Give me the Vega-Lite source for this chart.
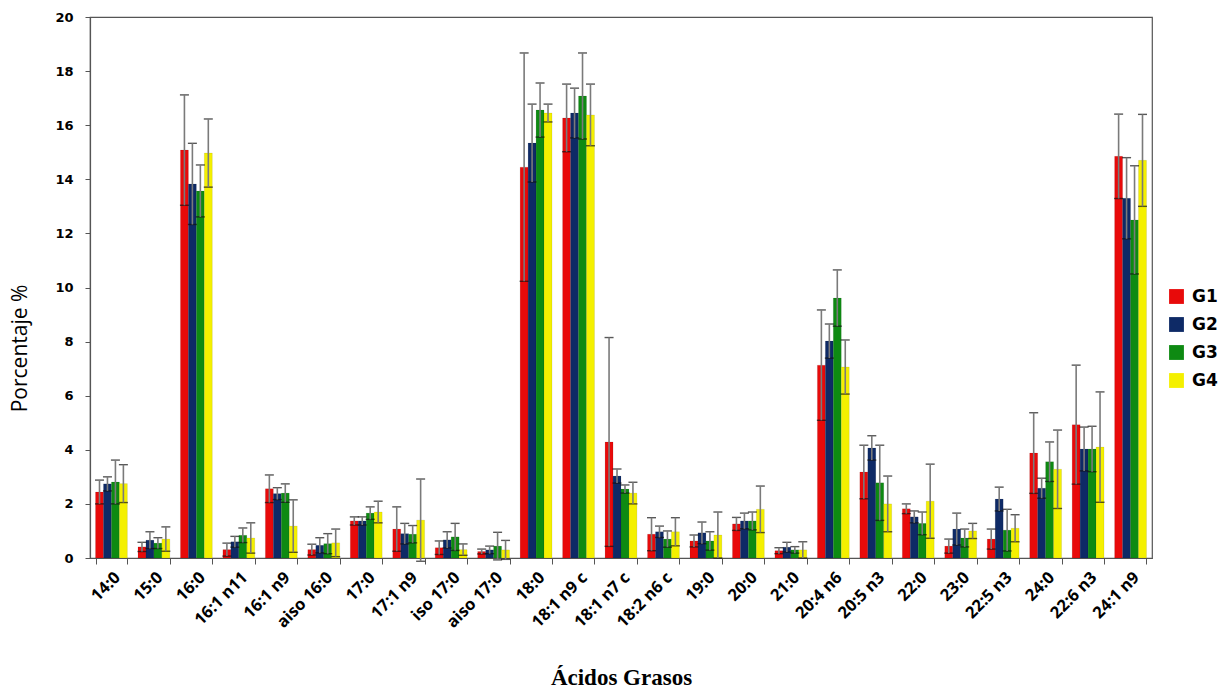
{
  "$schema": "https://vega.github.io/schema/vega-lite/v6.json",
  "width": 1062,
  "height": 541,
  "autosize": "none",
  "padding": {"left": 90, "top": 17, "right": 74, "bottom": 136},
  "background": "#ffffff",
  "config": {
    "view": {"stroke": "#555555", "strokeWidth": 1.2},
    "axis": {"domainColor": "#555555", "tickColor": "#555555", "grid": false}
  },
  "data": {
    "values": [
      {"acido": "14:0", "grupo": "G1", "media": 2.44, "de": 0.44},
      {"acido": "14:0", "grupo": "G2", "media": 2.74, "de": 0.26},
      {"acido": "14:0", "grupo": "G3", "media": 2.81, "de": 0.81},
      {"acido": "14:0", "grupo": "G4", "media": 2.75, "de": 0.7},
      {"acido": "15:0", "grupo": "G1", "media": 0.41, "de": 0.17},
      {"acido": "15:0", "grupo": "G2", "media": 0.66, "de": 0.31},
      {"acido": "15:0", "grupo": "G3", "media": 0.55, "de": 0.2},
      {"acido": "15:0", "grupo": "G4", "media": 0.7, "de": 0.45},
      {"acido": "16:0", "grupo": "G1", "media": 15.08, "de": 2.04},
      {"acido": "16:0", "grupo": "G2", "media": 13.83, "de": 1.5},
      {"acido": "16:0", "grupo": "G3", "media": 13.57, "de": 0.96},
      {"acido": "16:0", "grupo": "G4", "media": 14.97, "de": 1.26},
      {"acido": "16:1 n11", "grupo": "G1", "media": 0.31, "de": 0.24},
      {"acido": "16:1 n11", "grupo": "G2", "media": 0.6, "de": 0.2},
      {"acido": "16:1 n11", "grupo": "G3", "media": 0.84, "de": 0.27},
      {"acido": "16:1 n11", "grupo": "G4", "media": 0.74, "de": 0.56},
      {"acido": "16:1 n9", "grupo": "G1", "media": 2.56, "de": 0.51},
      {"acido": "16:1 n9", "grupo": "G2", "media": 2.38, "de": 0.22},
      {"acido": "16:1 n9", "grupo": "G3", "media": 2.4, "de": 0.34},
      {"acido": "16:1 n9", "grupo": "G4", "media": 1.18, "de": 0.97},
      {"acido": "aiso 16:0", "grupo": "G1", "media": 0.31, "de": 0.2},
      {"acido": "aiso 16:0", "grupo": "G2", "media": 0.47, "de": 0.28},
      {"acido": "aiso 16:0", "grupo": "G3", "media": 0.53, "de": 0.37},
      {"acido": "aiso 16:0", "grupo": "G4", "media": 0.56, "de": 0.51},
      {"acido": "17:0", "grupo": "G1", "media": 1.37, "de": 0.15},
      {"acido": "17:0", "grupo": "G2", "media": 1.37, "de": 0.15},
      {"acido": "17:0", "grupo": "G3", "media": 1.66, "de": 0.23},
      {"acido": "17:0", "grupo": "G4", "media": 1.7, "de": 0.4},
      {"acido": "17:1 n9", "grupo": "G1", "media": 1.07, "de": 0.82},
      {"acido": "17:1 n9", "grupo": "G2", "media": 0.9, "de": 0.38},
      {"acido": "17:1 n9", "grupo": "G3", "media": 0.88, "de": 0.32},
      {"acido": "17:1 n9", "grupo": "G4", "media": 1.4, "de": 1.52},
      {"acido": "iso 17:0", "grupo": "G1", "media": 0.38, "de": 0.25},
      {"acido": "iso 17:0", "grupo": "G2", "media": 0.67, "de": 0.3},
      {"acido": "iso 17:0", "grupo": "G3", "media": 0.78, "de": 0.5},
      {"acido": "iso 17:0", "grupo": "G4", "media": 0.31, "de": 0.21},
      {"acido": "aiso 17:0", "grupo": "G1", "media": 0.24, "de": 0.09},
      {"acido": "aiso 17:0", "grupo": "G2", "media": 0.3, "de": 0.14},
      {"acido": "aiso 17:0", "grupo": "G3", "media": 0.44, "de": 0.51},
      {"acido": "aiso 17:0", "grupo": "G4", "media": 0.3, "de": 0.35},
      {"acido": "18:0", "grupo": "G1", "media": 14.45, "de": 4.22},
      {"acido": "18:0", "grupo": "G2", "media": 15.34, "de": 1.44},
      {"acido": "18:0", "grupo": "G3", "media": 16.56, "de": 1.0},
      {"acido": "18:0", "grupo": "G4", "media": 16.45, "de": 0.33},
      {"acido": "18:1 n9 c", "grupo": "G1", "media": 16.27, "de": 1.25},
      {"acido": "18:1 n9 c", "grupo": "G2", "media": 16.45, "de": 0.92},
      {"acido": "18:1 n9 c", "grupo": "G3", "media": 17.08, "de": 1.59},
      {"acido": "18:1 n9 c", "grupo": "G4", "media": 16.38, "de": 1.14},
      {"acido": "18:1 n7 c", "grupo": "G1", "media": 4.29, "de": 3.86},
      {"acido": "18:1 n7 c", "grupo": "G2", "media": 3.03, "de": 0.26},
      {"acido": "18:1 n7 c", "grupo": "G3", "media": 2.55, "de": 0.15},
      {"acido": "18:1 n7 c", "grupo": "G4", "media": 2.4, "de": 0.4},
      {"acido": "18:2 n6 c", "grupo": "G1", "media": 0.88, "de": 0.61},
      {"acido": "18:2 n6 c", "grupo": "G2", "media": 0.97, "de": 0.21},
      {"acido": "18:2 n6 c", "grupo": "G3", "media": 0.7, "de": 0.3},
      {"acido": "18:2 n6 c", "grupo": "G4", "media": 0.97, "de": 0.52},
      {"acido": "19:0", "grupo": "G1", "media": 0.63, "de": 0.22},
      {"acido": "19:0", "grupo": "G2", "media": 0.93, "de": 0.4},
      {"acido": "19:0", "grupo": "G3", "media": 0.63, "de": 0.34},
      {"acido": "19:0", "grupo": "G4", "media": 0.85, "de": 0.85},
      {"acido": "20:0", "grupo": "G1", "media": 1.26, "de": 0.24},
      {"acido": "20:0", "grupo": "G2", "media": 1.37, "de": 0.29},
      {"acido": "20:0", "grupo": "G3", "media": 1.37, "de": 0.33},
      {"acido": "20:0", "grupo": "G4", "media": 1.8, "de": 0.86},
      {"acido": "21:0", "grupo": "G1", "media": 0.27, "de": 0.11},
      {"acido": "21:0", "grupo": "G2", "media": 0.4, "de": 0.18},
      {"acido": "21:0", "grupo": "G3", "media": 0.3, "de": 0.12},
      {"acido": "21:0", "grupo": "G4", "media": 0.3, "de": 0.3},
      {"acido": "20:4 n6", "grupo": "G1", "media": 7.13, "de": 2.04},
      {"acido": "20:4 n6", "grupo": "G2", "media": 8.02, "de": 0.63},
      {"acido": "20:4 n6", "grupo": "G3", "media": 9.61, "de": 1.04},
      {"acido": "20:4 n6", "grupo": "G4", "media": 7.06, "de": 1.0},
      {"acido": "20:5 n3", "grupo": "G1", "media": 3.18, "de": 0.99},
      {"acido": "20:5 n3", "grupo": "G2", "media": 4.07, "de": 0.45},
      {"acido": "20:5 n3", "grupo": "G3", "media": 2.78, "de": 1.39},
      {"acido": "20:5 n3", "grupo": "G4", "media": 2.0, "de": 1.03},
      {"acido": "22:0", "grupo": "G1", "media": 1.82, "de": 0.18},
      {"acido": "22:0", "grupo": "G2", "media": 1.52, "de": 0.22},
      {"acido": "22:0", "grupo": "G3", "media": 1.28, "de": 0.42},
      {"acido": "22:0", "grupo": "G4", "media": 2.1, "de": 1.37},
      {"acido": "23:0", "grupo": "G1", "media": 0.44, "de": 0.26},
      {"acido": "23:0", "grupo": "G2", "media": 1.07, "de": 0.59},
      {"acido": "23:0", "grupo": "G3", "media": 0.74, "de": 0.33},
      {"acido": "23:0", "grupo": "G4", "media": 1.0, "de": 0.28},
      {"acido": "22:5 n3", "grupo": "G1", "media": 0.7, "de": 0.37},
      {"acido": "22:5 n3", "grupo": "G2", "media": 2.18, "de": 0.44},
      {"acido": "22:5 n3", "grupo": "G3", "media": 1.03, "de": 0.77},
      {"acido": "22:5 n3", "grupo": "G4", "media": 1.1, "de": 0.5},
      {"acido": "24:0", "grupo": "G1", "media": 3.88, "de": 1.49},
      {"acido": "24:0", "grupo": "G2", "media": 2.58, "de": 0.37},
      {"acido": "24:0", "grupo": "G3", "media": 3.56, "de": 0.73},
      {"acido": "24:0", "grupo": "G4", "media": 3.28, "de": 1.45},
      {"acido": "22:6 n3", "grupo": "G1", "media": 4.93, "de": 2.2},
      {"acido": "22:6 n3", "grupo": "G2", "media": 4.03, "de": 0.81},
      {"acido": "22:6 n3", "grupo": "G3", "media": 4.03, "de": 0.84},
      {"acido": "22:6 n3", "grupo": "G4", "media": 4.1, "de": 2.04},
      {"acido": "24:1 n9", "grupo": "G1", "media": 14.85, "de": 1.56},
      {"acido": "24:1 n9", "grupo": "G2", "media": 13.3, "de": 1.5},
      {"acido": "24:1 n9", "grupo": "G3", "media": 12.5, "de": 2.0},
      {"acido": "24:1 n9", "grupo": "G4", "media": 14.7, "de": 1.7}
    ]
  },
  "encoding": {
    "x": {
      "field": "acido",
      "type": "nominal",
      "sort": null,
      "scale": {"paddingInner": 0.25, "paddingOuter": 0.13},
      "axis": {
        "title": "Ácidos Grasos",
        "titleFont": "Liberation Serif",
        "titleFontSize": 23,
        "titleFontWeight": "bold",
        "titleColor": "#000000",
        "titlePadding": 36,
        "labelAngle": -45,
        "labelFont": "Open Sans",
        "labelFontSize": 16.5,
        "labelFontWeight": "bold",
        "labelColor": "#000000",
        "labelPadding": 5,
        "labelDx": 12,
        "tickBand": "extent",
        "tickSize": 6,
        "domainWidth": 1.2
      }
    },
    "xOffset": {"field": "grupo", "type": "nominal", "sort": ["G1", "G2", "G3", "G4"]}
  },
  "layer": [
    {
      "mark": {"type": "bar", "stroke": "#000000", "strokeOpacity": 0.15, "strokeWidth": 0.6},
      "encoding": {
        "y": {
          "field": "media",
          "type": "quantitative",
          "title": "Porcentaje %",
          "scale": {"domain": [0, 20], "nice": false},
          "axis": {
            "title": "Porcentaje %",
            "titleFont": "Open Sans",
            "titleFontSize": 21,
            "titleFontWeight": "normal",
            "titleColor": "#000000",
            "titlePadding": 24,
            "titleY": 331,
            "values": [0, 2, 4, 6, 8, 10, 12, 14, 16, 18, 20],
            "labelFont": "DejaVu Sans",
            "labelFontSize": 13,
            "labelFontWeight": "bold",
            "labelColor": "#000000",
            "labelPadding": 12,
            "tickSize": 5,
            "domainWidth": 1.2
          }
        },
        "color": {
          "field": "grupo",
          "type": "nominal",
          "scale": {"domain": ["G1", "G2", "G3", "G4"], "range": ["#e80a0a", "#0e2a66", "#0e8a12", "#f4f000"]},
          "legend": {
            "title": null,
            "orient": "none",
            "legendX": 1078,
            "legendY": 271,
            "symbolType": "square",
            "symbolSize": 220,
            "symbolStrokeWidth": 0,
            "labelFont": "DejaVu Sans",
            "labelFontSize": 17,
            "labelFontWeight": "bold",
            "labelColor": "#000000",
            "labelOffset": 7,
            "rowPadding": 10
          }
        }
      }
    },
    {
      "mark": {"type": "errorbar", "ticks": {"color": "#111111", "size": 9, "thickness": 1.4}, "rule": {"color": "#7a7a7a", "strokeWidth": 1.6}},
      "encoding": {
        "y": {"field": "media", "type": "quantitative", "title": "Porcentaje %"},
        "yError": {"field": "de"}
      }
    }
  ]
}
